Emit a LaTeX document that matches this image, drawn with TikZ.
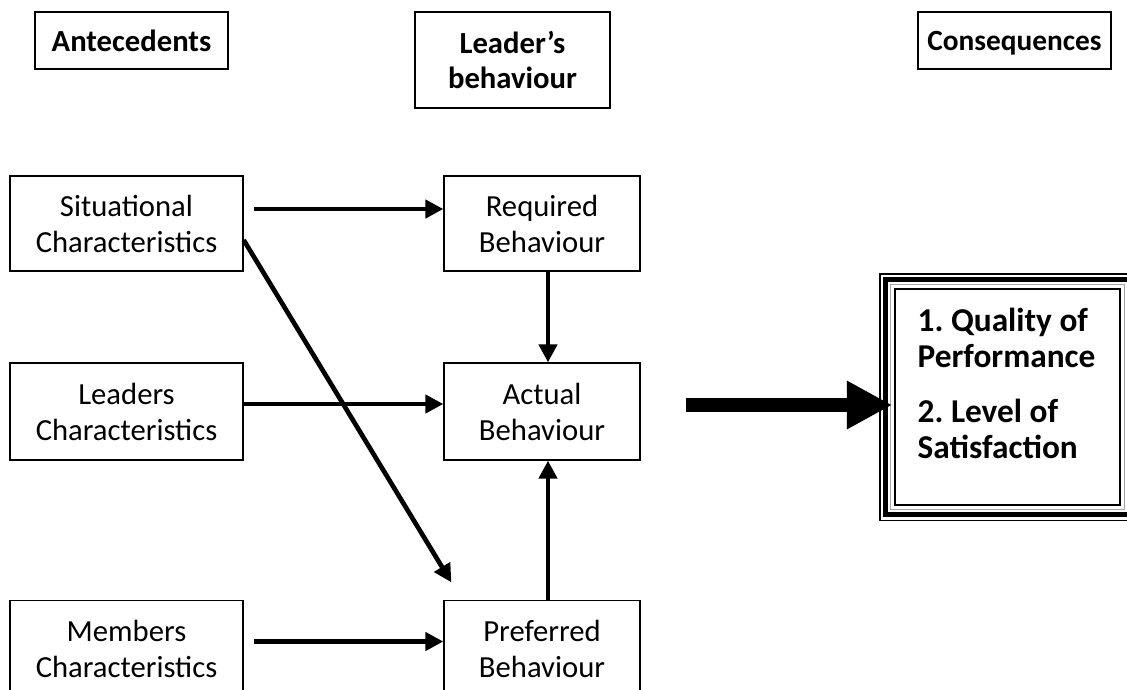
\documentclass[tikz,border=0pt]{standalone}
\usepackage{fontspec}
\setmainfont{Carlito}
\usetikzlibrary{arrows.meta,positioning,calc}

\begin{document}
\begin{tikzpicture}[x=0.75pt, y=-0.75pt,
  box/.style={draw, line width=1pt, align=center, inner sep=0pt, font=\fontsize{23}{27}\selectfont},
  headbox/.style={box, font=\bfseries\fontsize{23}{26}\selectfont},
  arr/.style={line width=3.5pt, -{Triangle[length=13.5pt,width=13.5pt]}},
  bigarr/.style={line width=11pt, -{Triangle[length=34pt,width=34pt]}}]
\useasboundingbox (0,0) rectangle (1127,689);

% headings
\node[headbox, minimum width=144.75pt, minimum height=42.75pt] (antec) at (131.5,40.5) {Antecedents};
\node[headbox, minimum width=146.25pt, minimum height=72pt] (leader) at (512.5,60) {Leader’s\\behaviour};
\node[headbox, minimum width=144.75pt, minimum height=42.75pt, font=\bfseries\fontsize{22}{26}\selectfont] (conseq) at (1014.5,40.5) {\raisebox{0pt}[\height][0pt]{Consequences}};

% boxes
\node[box, minimum width=174.75pt, minimum height=71.25pt] (situ) at (126.5,223.5) {Situational\\Characteristics};
\node[box, minimum width=147pt, minimum height=71.25pt] (req) at (542,223.5) {Required\\Behaviour};
\node[box, minimum width=174.75pt, minimum height=72.75pt] (lead) at (126.5,411.5) {Leaders\\Characteristics};
\node[box, minimum width=147pt, minimum height=72.75pt] (act) at (542,411.5) {Actual\\Behaviour};
\node[box, minimum width=174.75pt, minimum height=72.75pt] (mem) at (126.5,649) {Members\\Characteristics};
\node[box, minimum width=147pt, minimum height=72.75pt] (pref) at (542,649) {Preferred\\Behaviour};

% outcome box with triple frame
\node[draw, line width=1.2pt, align=flush left, inner xsep=17pt, text width=134.75pt,
  minimum width=168.75pt, minimum height=162pt,
  font=\frenchspacing\bfseries\fontsize{25}{27}\selectfont] (cons) at (1007.5,397)
  {1. Quality of\\Performance\\[14pt]2. Level of\\Satisfaction\\[-6pt]\mbox{}};
\draw[gray!70, line width=1pt] ([shift={(-4,4)}]cons.south west) rectangle ([shift={(4,-4)}]cons.north east);
\draw[line width=4pt] ([shift={(-8.5,8.5)}]cons.south west) rectangle ([shift={(8.5,-8.5)}]cons.north east);
\draw[line width=1.2pt] ([shift={(-14.5,14.5)}]cons.south west) rectangle ([shift={(14.5,-14.5)}]cons.north east);

% arrows
\draw[arr] ([shift={(10,-14.5)}]situ.east) -- ([shift={(0,-14.5)}]req.west);
\draw[arr] ([shift={(6,0)}]req.south) -- ([shift={(6,0)}]act.north);
\draw[arr] ([shift={(0,-7.5)}]lead.east) -- ([shift={(0,-7.5)}]act.west);
\draw[arr] ([shift={(0,16.5)}]situ.east) -- ([shift={(8,-17.5)}]pref.north west);
\draw[arr] ([shift={(10,-7.5)}]mem.east) -- ([shift={(0,-7.5)}]pref.west);
\draw[arr] ([shift={(6,0)}]pref.north) -- ([shift={(6,0)}]act.south);
\draw[bigarr] ([shift={(45,-6.5)}]act.east) -- ([shift={(-2,8)}]cons.west);
\end{tikzpicture}
\end{document}
